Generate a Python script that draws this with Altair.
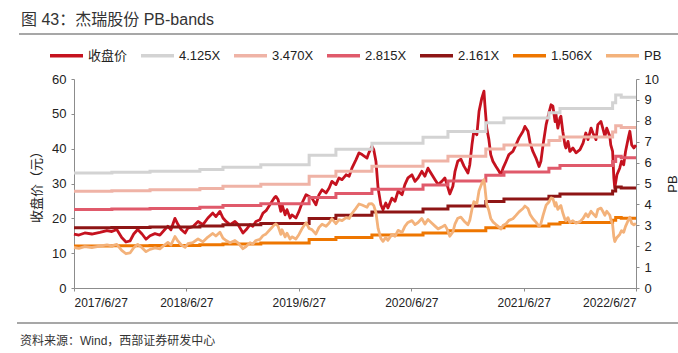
import altair as alt
import pandas as pd

title_text = "图 43：杰瑞股份 PB-bands"
source_text = "资料来源：Wind，西部证券研发中心"

series_names = ["收盘价", "4.125X", "3.470X", "2.815X", "2.161X", "1.506X", "PB"]
series_colors = ["#C5121F", "#D3D3D3", "#EFB3A6", "#E05A6B", "#8E1515", "#EE7600", "#F3B27B"]
band_names = ["4.125X", "3.470X", "2.815X", "2.161X", "1.506X"]
band_multiples = [4.125, 3.470, 2.815, 2.161, 1.506]

bvps_dates = ["2017-06-27", "2017-10-28", "2018-03-01", "2018-08-10", "2018-10-24",
              "2019-02-24", "2019-07-31", "2019-10-26", "2020-02-20", "2020-08-04",
              "2020-10-24", "2021-02-24", "2021-04-24", "2021-09-17", "2021-10-23",
              "2022-04-12", "2022-04-22", "2022-05-10"]
bvps_values = [8.00, 8.05, 8.12, 8.24, 8.41, 8.58, 9.24, 9.65, 10.08, 10.50,
               10.90, 11.50, 11.83, 12.20, 12.50, 12.90, 13.43, 13.28]
end_date = "2022-06-27"

price_dates = [
    "2017-06-27", "2017-07-13", "2017-08-01", "2017-08-24", "2017-09-19", "2017-10-12",
    "2017-10-28", "2017-11-13", "2017-11-29", "2017-12-13", "2017-12-26",
    "2018-01-07", "2018-01-20", "2018-02-03", "2018-02-16", "2018-03-01", "2018-03-17",
    "2018-04-02", "2018-04-18", "2018-04-28", "2018-05-08", "2018-05-21", "2018-05-31",
    "2018-06-10", "2018-06-23", "2018-07-02", "2018-07-18", "2018-08-04", "2018-08-20",
    "2018-09-05", "2018-09-21", "2018-10-01", "2018-10-14", "2018-10-24", "2018-11-03",
    "2018-11-16", "2018-12-02", "2018-12-12", "2018-12-28",
    "2019-01-07", "2019-01-20", "2019-01-29", "2019-02-08", "2019-02-21", "2019-03-03",
    "2019-03-13", "2019-03-29", "2019-04-08", "2019-04-14", "2019-04-21", "2019-04-30",
    "2019-05-04", "2019-05-14", "2019-05-20", "2019-05-30", "2019-06-05", "2019-06-18",
    "2019-06-28", "2019-07-08", "2019-07-21", "2019-07-31", "2019-08-09", "2019-08-22",
    "2019-09-01", "2019-09-11", "2019-09-24", "2019-10-04", "2019-10-13", "2019-10-26",
    "2019-11-05", "2019-11-15", "2019-11-28", "2019-12-08", "2019-12-17", "2019-12-30",
    "2020-01-09", "2020-01-19", "2020-02-04", "2020-02-10", "2020-02-20", "2020-02-26",
    "2020-03-04", "2020-03-11", "2020-03-20", "2020-03-27", "2020-04-05", "2020-04-12",
    "2020-04-25", "2020-05-05", "2020-05-15", "2020-05-28", "2020-06-06", "2020-06-16",
    "2020-06-29", "2020-07-09", "2020-07-19", "2020-07-31", "2020-08-10", "2020-08-20",
    "2020-09-02", "2020-09-12", "2020-09-22", "2020-10-04", "2020-10-14", "2020-10-21",
    "2020-10-30", "2020-11-09", "2020-11-16", "2020-11-25", "2020-12-05", "2020-12-15",
    "2020-12-28",
    "2021-01-03", "2021-01-10", "2021-01-16", "2021-01-26", "2021-02-02", "2021-02-11",
    "2021-02-18", "2021-02-21", "2021-02-27", "2021-03-06", "2021-03-12", "2021-03-19",
    "2021-03-29", "2021-04-08", "2021-04-14", "2021-04-21", "2021-05-01", "2021-05-10",
    "2021-05-23", "2021-06-02", "2021-06-12", "2021-06-25", "2021-07-01", "2021-07-11",
    "2021-07-18", "2021-07-27", "2021-08-06", "2021-08-16", "2021-08-22", "2021-08-29",
    "2021-09-08", "2021-09-17", "2021-09-24", "2021-09-30", "2021-10-07", "2021-10-10",
    "2021-10-16", "2021-10-23", "2021-10-26", "2021-11-01", "2021-11-08", "2021-11-11",
    "2021-11-18", "2021-11-24", "2021-12-04", "2021-12-14", "2021-12-27",
    "2022-01-06", "2022-01-15", "2022-01-22", "2022-02-01", "2022-02-07", "2022-02-17",
    "2022-02-23", "2022-03-05", "2022-03-11", "2022-03-18", "2022-03-24", "2022-04-03",
    "2022-04-06", "2022-04-12", "2022-04-16", "2022-04-19", "2022-04-26", "2022-05-05",
    "2022-05-11", "2022-05-18", "2022-05-24", "2022-06-03", "2022-06-07", "2022-06-13",
    "2022-06-20", "2022-06-27",
]
price_values = [
    15.5, 15.2, 15.8, 15.5, 16.0, 16.5,
    16.2, 16.8, 14.5, 13.2, 13.5,
    15.5, 16.8, 15.5, 14.0, 15.0, 15.6,
    15.2, 16.8, 17.7, 16.7, 20.0, 18.2,
    16.8, 15.8, 17.2, 17.6, 19.1, 18.2,
    20.1, 21.5, 20.5, 22.0, 20.1, 19.1,
    18.2, 19.1, 18.2, 15.8,
    16.7, 18.2, 17.7, 19.1, 19.6, 21.5,
    22.2, 24.4, 25.8, 26.3, 25.4, 22.0,
    23.9, 21.0, 22.5, 20.1, 21.0, 20.1,
    22.0, 24.4, 26.8, 26.3, 25.8, 23.9,
    26.8, 28.2, 27.3, 28.7, 30.6, 29.7,
    31.6, 31.1, 32.5, 32.1, 34.4, 36.8,
    38.8, 38.3, 37.3, 38.8, 40.7, 39.7,
    36.4, 28.7, 23.9, 22.5, 24.4, 23.0,
    25.8, 24.9, 27.8, 26.8, 29.7, 31.6,
    32.5, 30.6, 31.6, 33.5, 32.1, 34.4,
    32.5, 31.1, 29.7, 30.6, 31.6, 29.7,
    27.0, 29.2, 33.5, 36.4, 37.0, 35.0,
    33.0,
    35.4, 41.1, 45.0, 44.0, 50.7, 54.5,
    56.5, 52.6, 45.9, 42.6, 38.3, 36.4,
    34.9, 33.5, 32.5, 34.4, 36.4, 38.3,
    39.2, 41.1, 43.1, 45.0, 46.4, 45.0,
    41.6, 39.2, 37.3, 34.9, 36.4, 41.1,
    46.9, 50.2, 52.6, 52.2, 47.8, 49.8,
    45.9, 48.8, 49.3, 45.0, 41.1, 40.2,
    42.1, 39.2, 40.2, 38.8, 39.7,
    41.6, 44.5, 42.6, 45.9, 44.5, 42.6,
    46.9, 47.8, 45.9, 43.5, 45.9, 43.5,
    41.1, 39.2, 31.6, 28.7, 32.5, 34.4,
    36.4, 35.4, 39.2, 43.5, 45.0, 41.1,
    40.2, 41.0,
]

left_ticks = [0, 10, 20, 30, 40, 50, 60]
right_ticks = [0, 1, 2, 3, 4, 5, 6, 7, 8, 9, 10]
x_tick_years = [2017, 2018, 2019, 2020, 2021, 2022]

FONT = "Liberation Sans, Noto Sans CJK SC, sans-serif"
AXIS_GREY = "#8C8C8C"

# ---- tables
bv = pd.DataFrame({"date": pd.to_datetime(bvps_dates), "bvps": bvps_values})
band_rows = []
step_dates = bvps_dates + [end_date]
step_vals = bvps_values + [bvps_values[-1]]
for name, m in zip(band_names, band_multiples):
    for d, b in zip(step_dates, step_vals):
        band_rows.append({"date": d, "value": m * b, "series": name})
bands = pd.DataFrame(band_rows)
bands["date"] = pd.to_datetime(bands["date"])

price = pd.DataFrame({"date": pd.to_datetime(price_dates), "value": price_values})
price["series"] = "收盘价"

pb = pd.merge_asof(price[["date", "value"]].sort_values("date"), bv, on="date")
pb["pb"] = pb["value"] / pb["bvps"]
pb["series"] = "PB"
pb = pb[["date", "pb", "series"]]

x_enc = alt.X(
    "date:T",
    scale=alt.Scale(domain=[alt.DateTime(year=2017, month=6, date=27),
                            alt.DateTime(year=2022, month=6, date=27)], nice=False),
    axis=alt.Axis(
        values=[alt.DateTime(year=y, month=6, date=27) for y in x_tick_years],
        format="%Y/%-m/%-d", title=None, labelFontSize=12, labelColor="#222222",
        domainColor=AXIS_GREY, tickColor=AXIS_GREY, tickSize=3, labelPadding=6,
        grid=False, labelFont=FONT,
    ),
)

color_enc = alt.Color(
    "series:N",
    scale=alt.Scale(domain=series_names, range=series_colors),
    legend=alt.Legend(
        orient="none", legendX=-26, legendY=-42, direction="horizontal", columns=7,
        title=None, symbolType="stroke", symbolSize=1089, symbolStrokeWidth=3.5,
        labelFontSize=13, labelFont=FONT, labelColor="#222222", columnPadding=6,
        labelOffset=3, padding=0, rowPadding=0, gridAlign="each",
    ),
)

left_axis = alt.Axis(
    values=left_ticks, title="收盘价（元）", titleAngle=270, titleX=-38, titleY=104.5,
    titleAlign="center", titleBaseline="middle", titleFontSize=13, titleFontWeight="normal",
    titleFont=FONT, titleColor="#222222", labelFontSize=13, labelColor="#222222",
    labelFont=FONT, domainColor=AXIS_GREY, tickColor=AXIS_GREY, tickSize=3,
    labelPadding=5, grid=False,
)
y_left = alt.Y("value:Q", scale=alt.Scale(domain=[0, 60], nice=False), axis=left_axis)

right_axis = alt.Axis(
    orient="right", values=right_ticks, title="PB", titleAngle=270, titleX=36, titleY=104.5,
    titleAlign="center", titleBaseline="middle", titleFontSize=13, titleFontWeight="normal",
    titleFont=FONT, titleColor="#222222", labelFontSize=13, labelColor="#222222",
    labelFont=FONT, domainColor=AXIS_GREY, tickColor=AXIS_GREY, tickSize=3,
    labelPadding=5, grid=False,
)
y_right = alt.Y("pb:Q", scale=alt.Scale(domain=[0, 10], nice=False), axis=right_axis)

price_layer = alt.Chart(price).mark_line(strokeWidth=2.8, strokeJoin="round").encode(
    x=x_enc, y=y_left, color=color_enc
)
band_layer = alt.Chart(bands).mark_line(strokeWidth=3, interpolate="step-after").encode(
    x=x_enc, y=y_left, color=color_enc, detail="series:N"
)
left_group = alt.layer(price_layer, band_layer)

pb_layer = alt.Chart(pb).mark_line(strokeWidth=2.8, strokeJoin="round").encode(
    x=x_enc, y=y_right, color=color_enc
)

one = alt.InlineData(values=[{"k": 1}])
title_mark = alt.Chart(one).mark_text(
    text=title_text, align="left", baseline="alphabetic", fontSize=16, font=FONT,
    color="#333333"
).encode(x=alt.value(-53), y=alt.value(-54))
title_rule = alt.Chart(one).mark_rule(color="#8A8A8A", strokeWidth=1.5).encode(
    x=alt.value(-55), x2=alt.value(604), y=alt.value(-45)
)
foot_rule = alt.Chart(one).mark_rule(color="#8A8A8A", strokeWidth=1.5).encode(
    x=alt.value(-57), x2=alt.value(604), y=alt.value(244)
)
foot_mark = alt.Chart(one).mark_text(
    text=source_text, align="left", baseline="alphabetic", fontSize=12, font=FONT,
    color="#333333"
).encode(x=alt.value(-54), y=alt.value(266))

chart = alt.layer(left_group, pb_layer, title_mark, title_rule, foot_rule, foot_mark).resolve_scale(
    y="independent"
).properties(
    width=562, height=209,
    padding={"left": 74, "top": 79, "right": 42, "bottom": 65},
    autosize=alt.AutoSizeParams(type="none"),
    background="white",
).configure_view(stroke=None)

chart.save("out.html", embed_options={"renderer": "svg", "actions": False})
